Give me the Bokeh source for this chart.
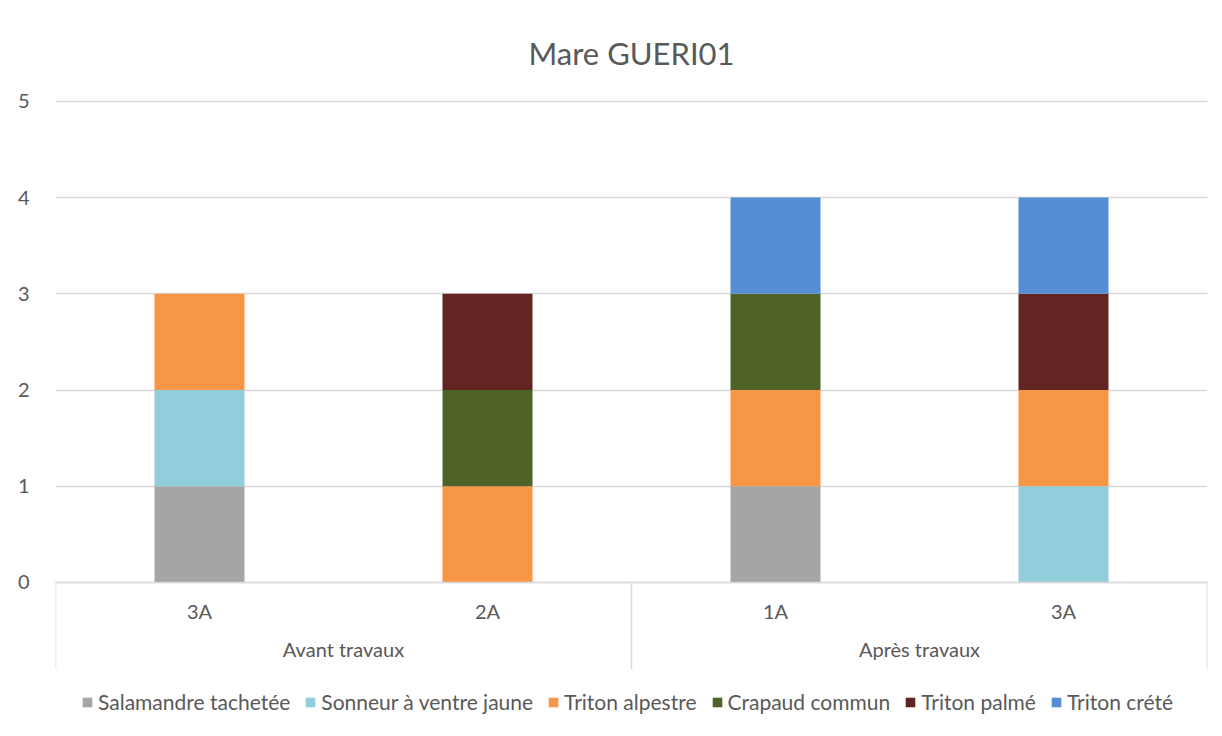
from bokeh.plotting import figure
from bokeh.models import FactorRange, FixedTicker, Legend, LegendItem, ColumnDataSource
from bokeh.embed import file_html
from bokeh.resources import INLINE
from bokeh.core.properties import value

# ---- data ----
periods = ["Avant travaux", "Avant travaux", "Après travaux", "Après travaux"]
years = ["3A", "2A", "1A", "3A"]
species = ["Salamandre tachetée", "Sonneur à ventre jaune", "Triton alpestre",
           "Crapaud commun", "Triton palmé", "Triton crété"]
salamandre = [1, 0, 1, 0]
sonneur = [1, 0, 0, 1]
alpestre = [1, 1, 1, 1]
crapaud = [0, 1, 1, 0]
palme = [0, 1, 0, 1]
crete = [0, 0, 1, 1]
colors = ["#A5A5A5", "#92CDDC", "#F79646", "#4F6228", "#632523", "#558ED5"]
y_ticks = [0, 1, 2, 3, 4, 5]
title = "Mare GUERI01"

FONT = "Lato"
TXT = "#595959"
GRID = "#D9D9D9"

factors = list(zip(periods, years))
keys = ["s0", "s1", "s2", "s3", "s4", "s5"]
source = ColumnDataSource(dict(x=factors, s0=salamandre, s1=sonneur, s2=alpestre,
                               s3=crapaud, s4=palme, s5=crete))

x_range = FactorRange(*factors, factor_padding=0, group_padding=0,
                      subgroup_padding=0, range_padding=0)
y_start = -1.446      # room below the zero line for the category labels and legend
sep_end = -0.9        # length of the category separators below the zero line
p = figure(width=1220, height=734, x_range=x_range, y_range=(y_start, 5.02),
           output_backend="svg", toolbar_location=None,
           min_border_left=55, min_border_right=13, min_border_top=99,
           min_border_bottom=13, title=title)
p.outline_line_color = None

p.title.align = "center"
p.title.text_font = FONT
p.title.text_font_size = "31px"
p.title.text_font_style = "normal"
p.title.text_color = TXT
p.title.standoff = 56
p.title.offset = -11

renderers = p.vbar_stack(keys, x="x", width=0.3125, color=colors, source=source,
                         line_color=None)

# category separators below the axis (outer edges and between groups)
edges = [(periods[0], years[0], -0.5), (periods[1], years[1], 0.5),
         (periods[3], years[3], 0.5)]
p.segment(x0=edges, y0=[0, 0, 0], x1=edges, y1=[sep_end] * 3,
          line_color=GRID, line_width=1.5)

# axes
xa = p.xaxis[0]
xa.fixed_location = 0
xa.axis_line_color = GRID
xa.axis_line_width = 1.5
xa.major_tick_line_color = None
xa.minor_tick_line_color = None
xa.separator_line_color = None
xa.major_label_text_font = FONT
xa.major_label_text_font_size = "20px"
xa.major_label_text_color = TXT
xa.group_text_font = FONT
xa.group_text_font_size = "20px"
xa.group_text_color = TXT
xa.group_text_font_style = "normal"
xa.major_label_standoff = 11

ya = p.yaxis[0]
ya.ticker = FixedTicker(ticks=y_ticks)
ya.axis_line_color = None
ya.major_tick_line_color = None
ya.minor_tick_line_color = None
ya.major_label_text_font = FONT
ya.major_label_text_font_size = "20px"
ya.major_label_text_color = TXT
ya.major_label_standoff = 20

p.xgrid.grid_line_color = None
p.ygrid.ticker = FixedTicker(ticks=y_ticks)
p.ygrid.grid_line_color = GRID
p.ygrid.grid_line_width = 1.5

legend = Legend(items=[LegendItem(label=s, renderers=[r]) for s, r in zip(species, renderers)],
                orientation="horizontal", location=(26, 7),
                label_text_font=FONT, label_text_font_size="21px", label_text_color=TXT,
                label_height=20, glyph_width=12, glyph_height=12, spacing=14, label_standoff=5,
                padding=2, margin=0, border_line_color=None, background_fill_alpha=0)
p.add_layout(legend)

open("out.html", "w").write(file_html(p, INLINE))
